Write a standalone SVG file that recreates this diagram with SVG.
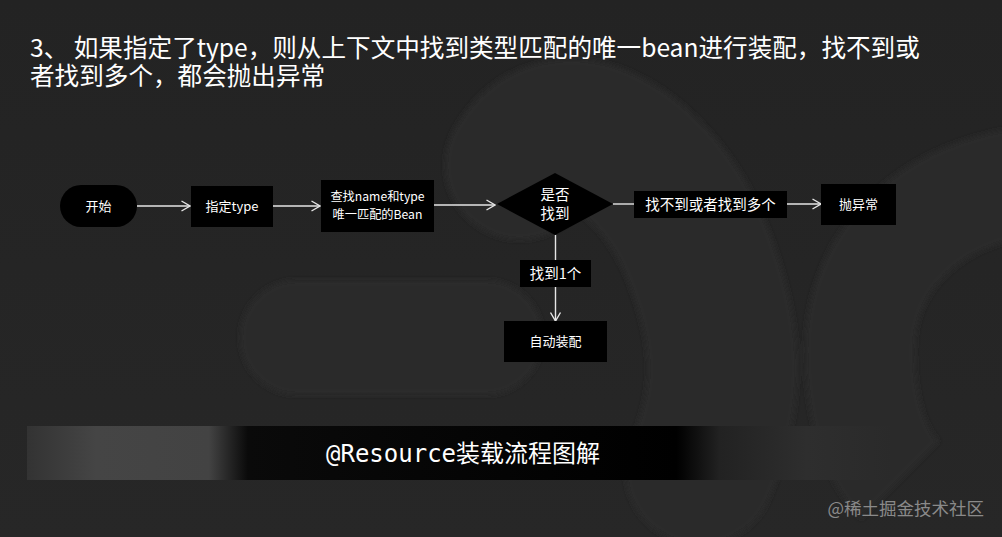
<svg xmlns="http://www.w3.org/2000/svg" width="1002" height="537" viewBox="0 0 1002 537">
  <defs>
    <linearGradient id="bg" x1="0" y1="0" x2="0" y2="1">
      <stop offset="0" stop-color="#232323"/>
      <stop offset="1" stop-color="#272727"/>
    </linearGradient>
    <linearGradient id="banner" x1="27" y1="0" x2="893" y2="0" gradientUnits="userSpaceOnUse">
      <stop offset="0" stop-color="#333333"/>
      <stop offset="0.08" stop-color="#454545"/>
      <stop offset="0.21" stop-color="#434343"/>
      <stop offset="0.255" stop-color="#0a0a0a"/>
      <stop offset="0.75" stop-color="#000000"/>
      <stop offset="0.80" stop-color="#222222"/>
      <stop offset="0.9" stop-color="#2e2e2e"/>
      <stop offset="1" stop-color="#2a2a2a"/>
    </linearGradient>
    <marker id="arrow" viewBox="0 0 10 12" refX="9.5" refY="6" markerWidth="10" markerHeight="12" markerUnits="userSpaceOnUse" orient="auto">
      <path d="M1,1 L9.5,6 L1,11" fill="none" stroke="#e6e6e6" stroke-width="1.4"/>
    </marker>
    <filter id="soft" filterUnits="userSpaceOnUse" x="0" y="0" width="1002" height="537">
      <feGaussianBlur stdDeviation="2.5"/>
    </filter>
  </defs>
  <style>
    .node { fill: #000000; }
    .lbl { fill: #ffffff; font-family: "Noto Sans CJK SC", "Noto Sans", sans-serif; font-size: 13px; text-anchor: middle; }
    .sm { font-size: 12.2px; }
    .big { font-size: 14.5px; }
    .edge { stroke: #e6e6e6; stroke-width: 1.4; fill: none; }
    .title { fill: #ffffff; font-family: "Noto Sans CJK SC", "Noto Sans", sans-serif; font-size: 24.6px; }
  </style>

  <!-- background -->
  <rect x="0" y="0" width="1002" height="537" fill="url(#bg)"/>
  <g id="background-shapes" fill="none" filter="url(#soft)">
    <path d="M520,165 C560,95 660,150 700,260 C730,340 730,400 700,470" stroke="#2b2b2b" stroke-width="150" stroke-linecap="round"/>
    <rect x="240" y="280" width="303" height="115" rx="57" fill="#2c2c2c"/>
    <path d="M1040,180 C930,190 860,260 860,350 C860,420 880,460 900,480" stroke="#2a2a2a" stroke-width="110"/>
  </g>

  <!-- title -->
  <g id="title">
    <text class="title"><tspan x="30" y="57">3、 如果指定了type，则从上下文中找到类型匹配的唯一bean进行装配，找不到或</tspan><tspan x="30" y="85">者找到多个，都会抛出异常</tspan></text>
  </g>

  <!-- connectors -->
  <g id="connectors">
    <line class="edge" x1="137" y1="206" x2="190" y2="206" marker-end="url(#arrow)"/>
    <line class="edge" x1="273" y1="206" x2="320" y2="206" marker-end="url(#arrow)"/>
    <line class="edge" x1="434" y1="205" x2="495" y2="205" marker-end="url(#arrow)"/>
    <line class="edge" x1="613" y1="204" x2="634" y2="204"/>
    <line class="edge" x1="787" y1="204" x2="821" y2="204" marker-end="url(#arrow)"/>
    <line class="edge" x1="555.5" y1="235" x2="555.5" y2="260"/>
    <line class="edge" x1="555.5" y1="287" x2="555.5" y2="321" marker-end="url(#arrow)"/>
    <g id="label-notfound">
      <rect class="node" x="634" y="191" width="153" height="27"/>
      <text class="lbl big" x="710.5" y="209.5">找不到或者找到多个</text>
    </g>
    <g id="label-found">
      <rect class="node" x="520" y="260" width="71" height="27"/>
      <text class="lbl big" x="555.5" y="279">找到1个</text>
    </g>
  </g>

  <!-- nodes -->
  <g id="start">
    <rect class="node" x="60" y="185" width="77" height="42" rx="21"/>
    <text class="lbl" x="98.5" y="210.5">开始</text>
  </g>
  <g id="specify-type">
    <rect class="node" x="191" y="186" width="82" height="41"/>
    <text class="lbl" x="232" y="211">指定type</text>
  </g>
  <g id="lookup">
    <rect class="node" x="321" y="180" width="113" height="52"/>
    <text class="lbl sm"><tspan x="377.5" y="200.5">查找name和type</tspan><tspan x="377.5" y="218.5">唯一匹配的Bean</tspan></text>
  </g>
  <g id="decision">
    <polygon class="node" points="555,173 613,204 555,235 497,204"/>
    <text class="lbl big"><tspan x="555" y="200">是否</tspan><tspan x="555" y="219">找到</tspan></text>
  </g>
  <g id="throw">
    <rect class="node" x="821" y="184" width="75" height="41"/>
    <text class="lbl" x="858.5" y="209">抛异常</text>
  </g>
  <g id="autowire">
    <rect class="node" x="504" y="321" width="103" height="41"/>
    <text class="lbl" x="555.5" y="346">自动装配</text>
  </g>

  <!-- caption banner -->
  <g id="caption">
    <rect x="27" y="426" width="866" height="54" fill="url(#banner)"/>
    <text x="326" y="462" fill="#ffffff" font-family="'DejaVu Sans Mono', 'Noto Sans CJK SC', monospace" font-size="24">@Resource装载流程图解</text>
  </g>

  <text id="watermark" x="984" y="515" fill="#8a8a8a" font-family="'Noto Sans CJK SC', sans-serif" font-size="17.5" text-anchor="end">@稀土掘金技术社区</text>
</svg>
